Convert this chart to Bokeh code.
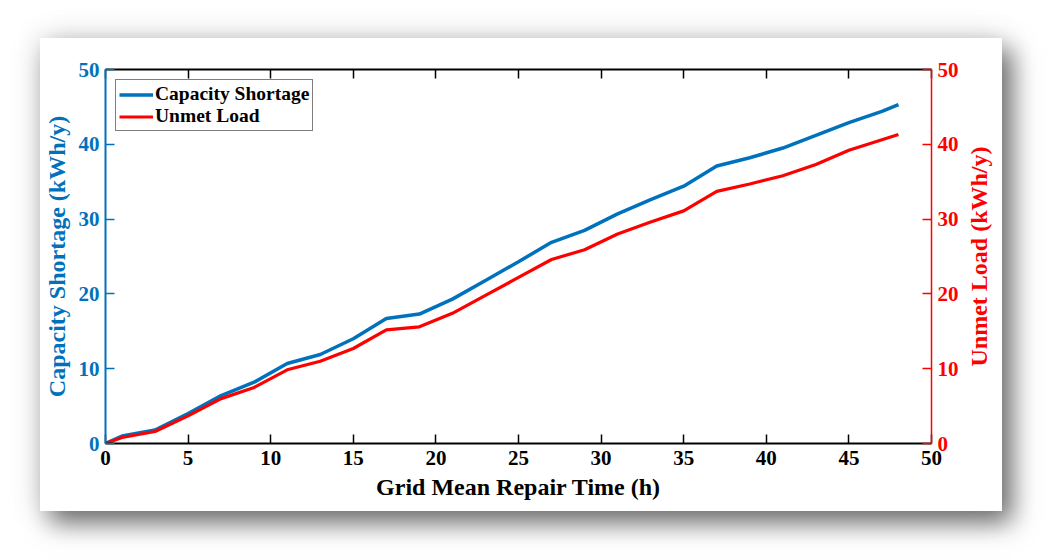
from bokeh.plotting import figure
from bokeh.layouts import row
from bokeh.models import Range1d, LinearAxis, FixedTicker, Legend, LegendItem, Label
from bokeh.embed import file_html
from bokeh.resources import INLINE

# Grid mean repair time (h) and the two survivability measures (kWh/y)
repair_time = [0, 1, 3, 5, 7, 9, 11, 13, 15, 17, 19, 21, 23, 25, 27, 29,
               31, 33, 35, 37, 39, 41, 43, 45, 47, 48]
capacity_shortage = [0, 1.0, 1.8, 4.0, 6.4, 8.2, 10.7, 11.9, 14.0, 16.7, 17.3,
                     19.3, 21.8, 24.3, 26.9, 28.5, 30.7, 32.6, 34.4, 37.1, 38.2,
                     39.5, 41.2, 42.9, 44.4, 45.3]
unmet_load = [0, 0.8, 1.6, 3.7, 6.0, 7.5, 9.85, 11.0, 12.7, 15.2, 15.6, 17.4,
              19.8, 22.2, 24.6, 25.9, 28.0, 29.6, 31.1, 33.7, 34.7, 35.8, 37.3,
              39.2, 40.6, 41.3]

x_ticks = [0, 5, 10, 15, 20, 25, 30, 35, 40, 45, 50]
y_ticks = [0, 10, 20, 30, 40, 50]

BLUE = "#0072BD"
RED = "#FF0000"
FONT = "Liberation Serif"

p = figure(width=922, height=473, output_backend="svg", toolbar_location=None,
           x_range=Range1d(0, 50), y_range=Range1d(0, 50),
           min_border_left=64, min_border_right=31,
           min_border_top=31, min_border_bottom=68,
           background_fill_color="white", border_fill_color="white",
           outline_line_color=None)
p.extra_y_ranges = {"unmet": Range1d(0, 50)}
p.xgrid.visible = False
p.ygrid.visible = False

def style_axis(ax, color, tick_len=9, line_width=2):
    ax.axis_line_color = color
    ax.axis_line_width = line_width
    ax.major_tick_line_color = color
    ax.major_tick_line_width = 1.5
    ax.major_tick_in = tick_len
    ax.major_tick_out = 0
    ax.minor_tick_line_color = None
    ax.major_label_text_color = color
    ax.major_label_text_font = FONT
    ax.major_label_text_font_style = "bold"
    ax.major_label_text_font_size = "21px"
    ax.axis_label_text_color = color
    ax.axis_label_text_font = FONT
    ax.axis_label_text_font_style = "bold"
    ax.axis_label_text_font_size = "24px"

xa = p.xaxis[0]
xa.ticker = FixedTicker(ticks=x_ticks)
xa.axis_label = "Grid Mean Repair Time (h)"
style_axis(xa, "black")
xa.major_label_standoff = 7
xa.axis_label_standoff = 6

ya = p.yaxis[0]
ya.ticker = FixedTicker(ticks=y_ticks)
ya.axis_label = "Capacity Shortage (kWh/y)"
style_axis(ya, BLUE)
ya.major_label_standoff = 6
ya.axis_label_standoff = 6

top = LinearAxis(ticker=FixedTicker(ticks=x_ticks))
style_axis(top, "black")
top.major_label_text_font_size = "0px"
top.major_label_standoff = 0
p.add_layout(top, "above")

right = LinearAxis(y_range_name="unmet", ticker=FixedTicker(ticks=y_ticks))
style_axis(right, RED, line_width=1.5)
right.major_label_standoff = 6
p.add_layout(right, "right")

r_cap = p.line(repair_time, capacity_shortage, line_color=BLUE, line_width=3.5)
r_unmet = p.line(repair_time, unmet_load, line_color=RED, line_width=3.2,
                 y_range_name="unmet")

legend = Legend(items=[LegendItem(label="Capacity Shortage", renderers=[r_cap]),
                       LegendItem(label="Unmet Load", renderers=[r_unmet])],
                location="top_left", margin=10, padding=3, spacing=0,
                glyph_width=34, glyph_height=21, label_height=21,
                label_standoff=2,
                border_line_color="black", border_line_width=1.2,
                background_fill_color="white", background_fill_alpha=1,
                label_text_font=FONT, label_text_font_style="bold",
                label_text_font_size="19.5px", label_text_color="black")
p.add_layout(legend)

title = Label(x=413.5, y=391, x_units="screen", y_units="screen",
              text="Survivability of Load", text_align="center",
              text_baseline="middle", text_font=FONT, text_font_style="bold",
              text_font_size="24px", text_color="black")
p.add_layout(title)

# narrow strip carrying the title of the right-hand (Unmet Load) axis,
# so that it reads bottom to top like the left one
q = figure(width=40, height=473, output_backend="svg", toolbar_location=None,
           x_range=Range1d(0, 1), y_range=Range1d(0, 50),
           x_axis_location=None, y_axis_location="left",
           min_border_left=0, min_border_right=0,
           min_border_top=31, min_border_bottom=68,
           background_fill_color="white", border_fill_color="white",
           outline_line_color=None)
q.xgrid.visible = False
q.ygrid.visible = False
qa = q.yaxis[0]
qa.ticker = FixedTicker(ticks=[])
qa.axis_line_color = None
qa.major_tick_line_color = None
qa.minor_tick_line_color = None
qa.major_label_text_font_size = "0px"
qa.major_label_standoff = 0
qa.axis_label = "Unmet Load (kWh/y)"
qa.axis_label_standoff = 0
qa.axis_label_text_color = RED
qa.axis_label_text_font = FONT
qa.axis_label_text_font_style = "bold"
qa.axis_label_text_font_size = "24px"

card = row(p, q, spacing=0, margin=(38, 0, 0, 40))
card.styles = {"box-shadow": "10px 12px 24px rgba(0,0,0,0.55), 0px 0px 30px rgba(0,0,0,0.14)",
               "background-color": "white"}

open("out.html", "w").write(file_html(card, INLINE))
